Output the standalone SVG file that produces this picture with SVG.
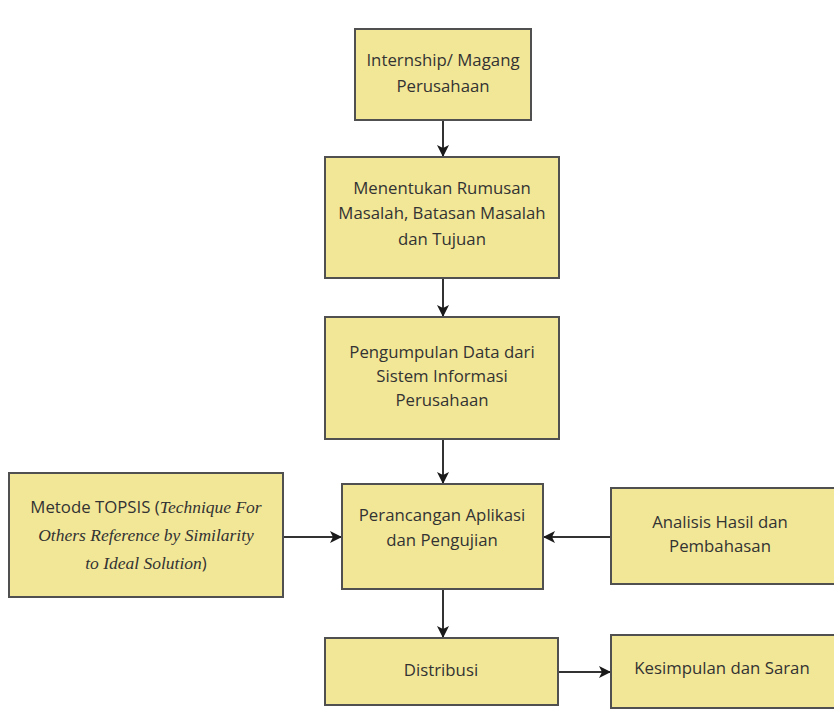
<svg xmlns="http://www.w3.org/2000/svg" width="834" height="722" viewBox="0 0 834 722">
<defs>
<style>
.box{fill:#F2E797;stroke:#505050;stroke-width:2}
.t{font-family:"Open Sans","Noto Sans",sans-serif;font-size:16.8px;fill:#333;text-anchor:middle}
.i{font-family:"Liberation Serif",serif;font-style:italic;font-size:17.5px}
.c{stroke:#333;stroke-width:2;fill:none;marker-end:url(#ah)}
</style>
<marker id="ah" markerWidth="12" markerHeight="12" refX="11" refY="6" orient="auto" markerUnits="userSpaceOnUse">
<path d="M0,0 L12,6 L0,12 L3,6 Z" fill="#1a1a1a"/>
</marker>
</defs>
<rect width="834" height="722" fill="#fff"/>
<g id="connectors">
<line class="c" x1="443" y1="120" x2="443" y2="156"/>
<line class="c" x1="443" y1="278" x2="443" y2="316"/>
<line class="c" x1="443" y1="439" x2="443" y2="483"/>
<line class="c" x1="283" y1="537" x2="341" y2="537"/>
<line class="c" x1="611" y1="537" x2="544" y2="537"/>
<line class="c" x1="443" y1="589" x2="443" y2="637"/>
<line class="c" x1="558" y1="672" x2="610" y2="672"/>
</g>
<g id="n1">
<rect class="box" x="355" y="29" width="176" height="91"/>
<text class="t" x="443" y="66">Internship/ Magang</text>
<text class="t" x="443" y="92">Perusahaan</text>
</g>
<g id="n2">
<rect class="box" x="325" y="157" width="234" height="121"/>
<text class="t" x="442" y="194">Menentukan Rumusan</text>
<text class="t" x="442" y="219">Masalah, Batasan Masalah</text>
<text class="t" x="442" y="245">dan Tujuan</text>
</g>
<g id="n3">
<rect class="box" x="325" y="317" width="234" height="122"/>
<text class="t" x="442" y="358">Pengumpulan Data dari</text>
<text class="t" x="442" y="382">Sistem Informasi</text>
<text class="t" x="442" y="406">Perusahaan</text>
</g>
<g id="n4">
<rect class="box" x="342" y="484" width="201" height="105"/>
<text class="t" x="442" y="521">Perancangan Aplikasi</text>
<text class="t" x="442" y="546">dan Pengujian</text>
</g>
<g id="n5">
<rect class="box" x="9" y="473" width="274" height="124"/>
<text class="t" x="146" y="513">Metode TOPSIS (<tspan class="i">Technique For</tspan></text>
<text class="t i" x="146" y="541">Others Reference by Similarity</text>
<text class="t" x="146" y="569"><tspan class="i">to Ideal Solution</tspan>)</text>
</g>
<g id="n6">
<rect class="box" x="611" y="488" width="230" height="96"/>
<text class="t" x="720" y="528">Analisis Hasil dan</text>
<text class="t" x="720" y="552">Pembahasan</text>
</g>
<g id="n7">
<rect class="box" x="325" y="638" width="233" height="67"/>
<text class="t" x="441" y="676">Distribusi</text>
</g>
<g id="n8">
<rect class="box" x="611" y="635" width="230" height="73"/>
<text class="t" x="722" y="674">Kesimpulan dan Saran</text>
</g>
</svg>
